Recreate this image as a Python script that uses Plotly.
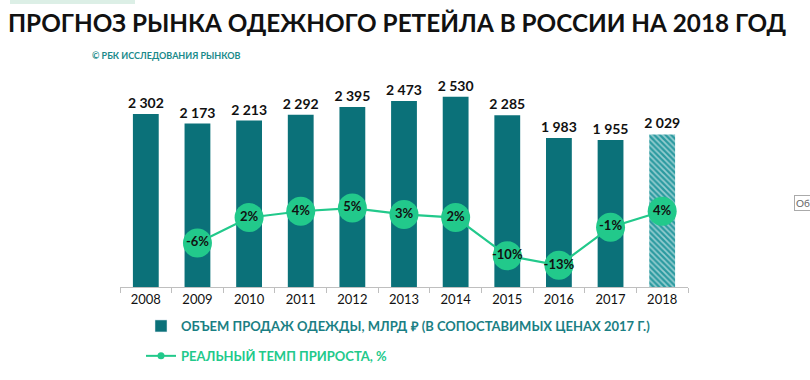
import plotly.graph_objects as go

years = ["2008", "2009", "2010", "2011", "2012", "2013", "2014", "2015", "2016", "2017", "2018"]
sales = [2302, 2173, 2213, 2292, 2395, 2473, 2530, 2285, 1983, 1955, 2029]
growth_years = ["2009", "2010", "2011", "2012", "2013", "2014", "2015", "2016", "2017", "2018"]
growth = [-6, 2, 4, 5, 3, 2, -10, -13, -1, 4]

title_text = "ПРОГНОЗ РЫНКА ОДЕЖНОГО РЕТЕЙЛА В РОССИИ НА 2018 ГОД"
source_text = "© РБК ИССЛЕДОВАНИЯ РЫНКОВ"
bar_name = "ОБЪЕМ ПРОДАЖ ОДЕЖДЫ, МЛРД ₽ (В СОПОСТАВИМЫХ ЦЕНАХ 2017 Г.)"
line_name = "РЕАЛЬНЫЙ ТЕМП ПРИРОСТА, %"

BAR = "#0b7179"
GREEN = "#22c98b"
TEAL_TXT = "#1b7f84"
FONT = "Lato, 'Open Sans', sans-serif"

W, H = 810, 380
L, R, T, B = 120, 122, 90, 93
pw, ph = W - L - R, H - T - B

def px_x(x):
    return (x - L) / pw

def px_y(y):
    return (H - B - y) / ph

bar_colors = [BAR] * (len(years) - 1) + ["#2b9aa0"]
bar_shapes = [""] * (len(years) - 1) + ["\\"]

fig = go.Figure()
fig.add_trace(go.Bar(
    x=years, y=sales, marker=dict(color=bar_colors, line=dict(width=0),
                                  pattern=dict(shape=bar_shapes, fgcolor="#a8e2e6", size=4, solidity=0.45)),
    texttemplate="%{y:,}", textposition="outside", cliponaxis=False, constraintext="none",
    textfont=dict(family=FONT, size=14, color="#111111", weight="bold"),
    showlegend=False, hoverinfo="skip",
))
fig.add_trace(go.Scatter(
    x=growth_years, y=growth, yaxis="y2", mode="lines+markers+text",
    line=dict(color=GREEN, width=2.2),
    marker=dict(size=29, color=GREEN),
    text=[f"{v}%" for v in growth], textposition="middle center",
    textfont=dict(family=FONT, size=13, color="#111111", weight="bold"),
    showlegend=False, cliponaxis=False, hoverinfo="skip",
))
# legend entries
fig.add_trace(go.Bar(x=[years[0]], y=[None], marker=dict(color=BAR), legendgroup="a",
                     name=f"<span style='color:{TEAL_TXT}'>{bar_name}</span>"))
fig.add_trace(go.Scatter(x=[years[0]], y=[None], mode="lines+markers", legendgroup="b",
                         line=dict(color=GREEN, width=2), marker=dict(color=GREEN, size=7),
                         name=f"<span style='color:{GREEN}'>{line_name}</span>"))

fig.update_layout(
    width=W, height=H, margin=dict(l=L, r=R, t=T, b=B, autoexpand=False),
    paper_bgcolor="white", plot_bgcolor="white",
    separators=", ",
    barmode="overlay",
    bargap=0.5,
    font=dict(family=FONT, color="#111111"),
    title=dict(text=f"<b>{title_text}</b>", x=8 / W, xanchor="left", xref="container",
               y=1 - 23 / H, yanchor="middle", yref="container",
               font=dict(family=FONT, size=24.3, color="#111111")),
    xaxis=dict(type="category", categoryorder="array", categoryarray=years,
               range=[-0.5, len(years) - 0.5],
               showline=True, linecolor="#bfbfbf", linewidth=1,
               ticks="outside", tickson="boundaries", ticklen=5, tickcolor="#bfbfbf",
               tickfont=dict(family=FONT, size=13, color="#111111"), showgrid=False),
    yaxis=dict(range=[0, 2620], visible=False, showgrid=False),
    yaxis2=dict(range=[-19.8, 42.1], overlaying="y", visible=False, showgrid=False),
    legend=dict(x=px_x(141), y=px_y(311), xanchor="left", yanchor="top",
                orientation="v", traceorder="grouped", tracegroupgap=10,
                font=dict(family=FONT, size=13, weight="bold"), bgcolor="rgba(0,0,0,0)"),
    annotations=[
        dict(text=f"<b>{source_text}</b>", xref="paper", yref="paper", x=px_x(90), y=px_y(56),
             xanchor="left", yanchor="middle", showarrow=False,
             font=dict(family=FONT, size=9, color="#1a8a8a")),
        dict(text="Об", xref="paper", yref="paper", x=px_x(794), y=px_y(203),
             xanchor="left", yanchor="middle", showarrow=False, bordercolor="#aaaaaa",
             borderwidth=1, borderpad=1, bgcolor="white",
             font=dict(family=FONT, size=10, color="#666666")),
    ],
    shapes=[
        dict(type="rect", xref="paper", yref="paper", x0=px_x(10), x1=px_x(135),
             y0=px_y(4), y1=px_y(0), fillcolor="#dcefe6", line=dict(width=0), layer="below"),
    ],
)

fig.write_html("out.html", config={"displayModeBar": False},
               post_script="document.body.style.margin='0';document.body.style.overflow='hidden';")
